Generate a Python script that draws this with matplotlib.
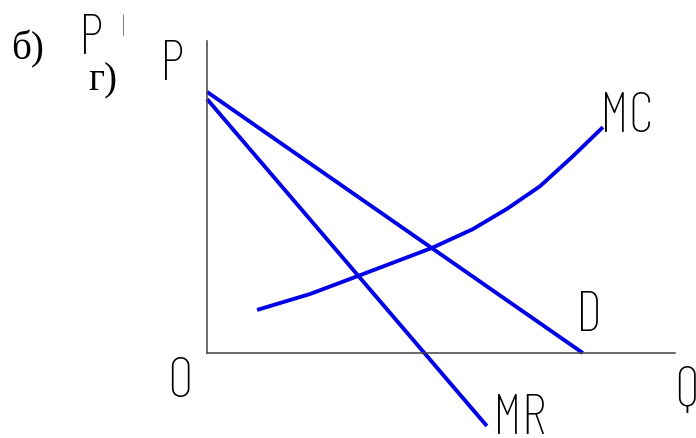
import matplotlib
matplotlib.use("Agg")
import matplotlib.pyplot as plt

# curves in axis units (Q and P both 0..10)
d_q = [0.0, 8.03]
d_p = [8.37, 0.0]
mr_q = [0.0, 5.98]
mr_p = [8.14, -2.34]
mc_q = [1.07, 2.20, 3.23, 4.81, 5.68, 6.41, 7.12, 7.82, 8.46]
mc_p = [1.38, 1.89, 2.47, 3.37, 3.97, 4.62, 5.35, 6.31, 7.24]

W, H = 696, 439
blue = '#0000e6'
narrow = ['Barlow Condensed', 'Liberation Sans Narrow', 'DejaVu Sans']
serif = ['Liberation Serif', 'DejaVu Serif']

fig = plt.figure(figsize=(W / 100, H / 100), dpi=100)
ax = fig.add_axes([207 / W, (H - 354) / H, (675 - 207) / W, (354 - 42) / H])
ax.set_xlim(0, 10)
ax.set_ylim(0, 10)
for s in ['top', 'right']:
    ax.spines[s].set_visible(False)
for s in ['left', 'bottom']:
    ax.spines[s].set_color('#444444')
    ax.spines[s].set_linewidth(1.1)
ax.set_xticks([])
ax.set_yticks([])
ax.patch.set_alpha(0)

ax.plot(d_q, d_p, color=blue, lw=2.8, clip_on=False, solid_capstyle='butt')
ax.plot(mr_q, mr_p, color=blue, lw=2.8, clip_on=False, solid_capstyle='butt')
ax.plot(mc_q, mc_p, color=blue, lw=2.8, clip_on=False, solid_capstyle='butt')


def label(x, y, s, size, fam, **kw):
    fig.text(x / W, 1 - y / H, s, fontsize=size, family=fam,
             ha='center', va='center', **kw)


label(28, 49, 'б)', 28, serif)
label(103, 81, 'г)', 28, serif)
label(91, 39, 'P', 41, narrow, fontweight='light')
label(123, 27, '|', 18, narrow, fontweight='light', color='#555555')
label(172, 66, 'P', 41, narrow, fontweight='light')
label(627, 118, 'MC', 41, narrow, fontweight='light')
label(589, 317, 'D', 41, narrow, fontweight='light')
label(180, 383, 'O', 41, narrow, fontweight='light')
label(519, 420, 'MR', 41, narrow, fontweight='light')
label(686, 392, 'Q', 41, narrow, fontweight='light')

fig.savefig('out.png', dpi=100)
